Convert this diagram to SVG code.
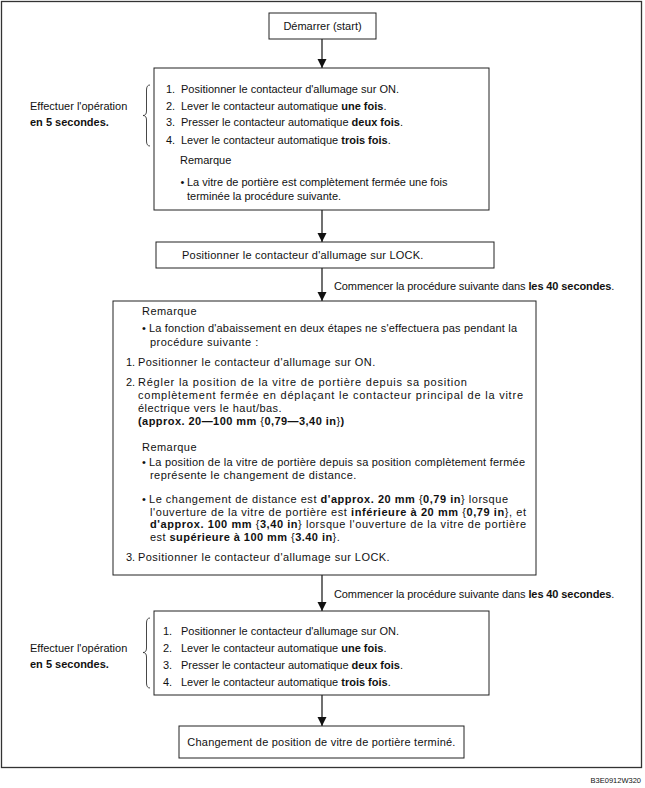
<svg xmlns="http://www.w3.org/2000/svg" width="645" height="788" viewBox="0 0 645 788">
<defs>
<style>
.t{font-family:"Liberation Sans",Arial,Helvetica,sans-serif;font-size:11px;fill:#111}
.b{font-weight:bold}
.w{letter-spacing:0.45px}
.w2{letter-spacing:0.22px}
.box{fill:#fff;stroke:#222;stroke-width:1}
.ln{stroke:#111;stroke-width:1.2;fill:none}
.br{stroke:#333;stroke-width:0.9;fill:none}
.ft{font-family:"Liberation Sans",Arial,sans-serif;font-size:7.5px;fill:#111}
</style>
<marker id="ah" markerUnits="userSpaceOnUse" markerWidth="10" markerHeight="10" viewBox="0 0 10 10" refX="9" refY="5" orient="auto">
<path d="M0,0.5 L9,5 L0,9.5 Z" fill="#111"/>
</marker>
</defs>
<rect width="645" height="788" fill="#fff"/>
<rect x="1.5" y="1.5" width="640" height="766" fill="none" stroke="#333" stroke-width="1.3"/>
<text class="ft" x="641" y="783" text-anchor="end">B3E0912W320</text>

<g id="connectors">
<line class="ln" x1="322" y1="39" x2="322" y2="68" marker-end="url(#ah)"/>
<line class="ln" x1="322" y1="210" x2="322" y2="242" marker-end="url(#ah)"/>
<line class="ln" x1="322" y1="268" x2="322" y2="301" marker-end="url(#ah)"/>
<line class="ln" x1="322" y1="575" x2="322" y2="611" marker-end="url(#ah)"/>
<line class="ln" x1="322" y1="695" x2="322" y2="726" marker-end="url(#ah)"/>
<text class="t" x="334" y="290" letter-spacing="-0.1">Commencer la procédure suivante dans <tspan class="b">les 40 secondes</tspan>.</text>
<text class="t" x="334" y="598" letter-spacing="-0.1">Commencer la procédure suivante dans <tspan class="b">les 40 secondes</tspan>.</text>
</g>

<g id="start">
<rect class="box" x="269" y="13" width="107" height="26"/>
<text class="t" x="322.5" y="30" text-anchor="middle">Démarrer (start)</text>
</g>

<g id="label1">
<text class="t" x="30" y="110">Effectuer l'opération</text>
<text class="t b" x="30" y="126">en 5 secondes.</text>
<path class="br" d="M150,85 Q146.5,85 146.5,90 L146.5,111 Q146.5,115.5 143,115.5 Q146.5,115.5 146.5,120 L146.5,141 Q146.5,146 150,146"/>
</g>

<g id="box1">
<rect class="box" x="154" y="68" width="335" height="142"/>
<text class="t" x="166" y="93">1.</text><text class="t" x="181" y="93">Positionner le contacteur d'allumage sur ON.</text>
<text class="t" x="166" y="110">2.</text><text class="t" x="181" y="110">Lever le contacteur automatique <tspan class="b">une fois</tspan>.</text>
<text class="t" x="166" y="126">3.</text><text class="t" x="181" y="126">Presser le contacteur automatique <tspan class="b">deux fois</tspan>.</text>
<text class="t" x="166" y="144">4.</text><text class="t" x="181" y="144">Lever le contacteur automatique <tspan class="b">trois fois</tspan>.</text>
<text class="t" x="180" y="164">Remarque</text>
<text class="t" x="180.5" y="186">•</text><text class="t" x="187" y="186">La vitre de portière est complètement fermée une fois</text>
<text class="t" x="187" y="200">terminée la procédure suivante.</text>
</g>

<g id="lock">
<rect class="box" x="156" y="242" width="338" height="26"/>
<text class="t w2" x="182" y="259">Positionner le contacteur d'allumage sur LOCK.</text>
</g>

<g id="procedure">
<rect class="box" x="113" y="301" width="423" height="274"/>
<text class="t w" x="142" y="315">Remarque</text>
<text class="t" x="142" y="332">•</text><text class="t" x="149" y="332" textLength="368">La fonction d'abaissement en deux étapes ne s'effectuera pas pendant la</text>
<text class="t w" x="150" y="346">procédure suivante :</text>
<text class="t" x="126" y="366">1.</text><text class="t w" x="138" y="366">Positionner le contacteur d'allumage sur ON.</text>
<text class="t" x="126" y="386">2.</text><text class="t" x="138" y="386" textLength="329">Régler la position de la vitre de portière depuis sa position</text>
<text class="t" x="138" y="399" textLength="385">complètement fermée en déplaçant le contacteur principal de la vitre</text>
<text class="t w" x="138" y="412">électrique vers le haut/bas.</text>
<text class="t w" x="138" y="425"><tspan class="b">(approx. 20—100 mm </tspan>{<tspan class="b">0,79—3,40 in</tspan>}<tspan class="b">)</tspan></text>
<text class="t w" x="142" y="451">Remarque</text>
<text class="t" x="142" y="466">•</text><text class="t" x="149" y="466" textLength="376">La position de la vitre de portière depuis sa position complètement fermée</text>
<text class="t w" x="150" y="479">représente le changement de distance.</text>
<text class="t" x="142" y="503">•</text><text class="t" x="149" y="503" textLength="359">Le changement de distance est <tspan class="b">d'approx. 20 mm</tspan> {<tspan class="b">0,79 in</tspan>} lorsque</text>
<text class="t" x="150" y="515.5" textLength="376">l'ouverture de la vitre de portière est <tspan class="b">inférieure à 20 mm</tspan> {<tspan class="b">0,79 in</tspan>}, et</text>
<text class="t" x="150" y="528" textLength="376"><tspan class="b">d'approx. 100 mm</tspan> {<tspan class="b">3,40 in</tspan>} lorsque l'ouverture de la vitre de portière</text>
<text class="t w" x="150" y="540.5">est <tspan class="b">supérieure à 100 mm</tspan> {<tspan class="b">3.40 in</tspan>}.</text>
<text class="t" x="126" y="561">3.</text><text class="t w" x="138" y="561">Positionner le contacteur d'allumage sur LOCK.</text>
</g>

<g id="label2">
<text class="t" x="30" y="652">Effectuer l'opération</text>
<text class="t b" x="30" y="668">en 5 secondes.</text>
<path class="br" d="M150,618 Q146.5,618 146.5,623 L146.5,648 Q146.5,652.5 143,652.5 Q146.5,652.5 146.5,657 L146.5,683 Q146.5,688 150,688"/>
</g>

<g id="box3">
<rect class="box" x="154" y="611" width="335" height="84"/>
<text class="t" x="163" y="635">1.</text><text class="t" x="181" y="635">Positionner le contacteur d'allumage sur ON.</text>
<text class="t" x="163" y="652">2.</text><text class="t" x="181" y="652">Lever le contacteur automatique <tspan class="b">une fois</tspan>.</text>
<text class="t" x="163" y="669">3.</text><text class="t" x="181" y="669">Presser le contacteur automatique <tspan class="b">deux fois</tspan>.</text>
<text class="t" x="163" y="686">4.</text><text class="t" x="181" y="686">Lever le contacteur automatique <tspan class="b">trois fois</tspan>.</text>
</g>

<g id="end">
<rect class="box" x="179" y="726" width="285" height="32"/>
<text class="t w2" x="321.5" y="746" text-anchor="middle">Changement de position de vitre de portière terminé.</text>
</g>
</svg>
